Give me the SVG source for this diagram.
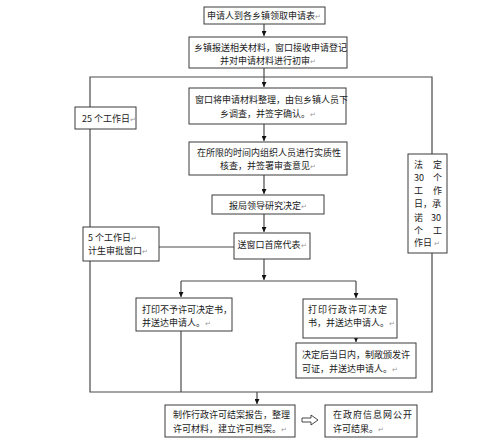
<svg xmlns="http://www.w3.org/2000/svg" width="499" height="441" viewBox="0 0 499 441">
<style>
.b{fill:#fff;stroke:#3a3a3a;stroke-width:1}
.t{font-family:"Noto Sans CJK SC","Noto Sans",sans-serif;font-size:9px;fill:#1a1a1a}
.m{text-anchor:middle}
.r{fill:#999;font-size:7px}
.c{fill:none;stroke:#4a4a4a;stroke-width:1.2}
</style>
<defs>
<marker id="a" viewBox="0 0 6 6" refX="6" refY="3" markerWidth="5" markerHeight="5" orient="auto" markerUnits="userSpaceOnUse">
<path d="M0,0L6,3L0,6z" fill="#111"/>
</marker>
</defs>
<rect width="499" height="441" fill="#fff"/>
<g id="connectors">
<path class="c" d="M264,24V36" marker-end="url(#a)"/>
<path class="c" d="M264,68V87" marker-end="url(#a)"/>
<path class="c" d="M90,107V77H432V154"/>
<path class="c" d="M90,129V227"/>
<path class="c" d="M90,261V392H432V253"/>
<path class="c" d="M264,124V141" marker-end="url(#a)"/>
<path class="c" d="M264,175V194" marker-end="url(#a)"/>
<path class="c" d="M264,214V232" marker-end="url(#a)"/>
<path class="c" d="M264,259V280" marker-end="url(#a)"/>
<path class="c" d="M181,281H356"/>
<path class="c" d="M181,281V297" marker-end="url(#a)"/>
<path class="c" d="M356,281V298" marker-end="url(#a)"/>
<path class="c" d="M159,247H234"/>
<path class="c" d="M356,338V342" marker-end="url(#a)"/>
<path class="c" d="M181,331V392"/>
<path class="c" d="M257,392V404" marker-end="url(#a)"/>
<path d="M302,418H311V415L318,420L311,425V422H302Z" fill="#fff" stroke="#333" stroke-width="0.9"/>
</g>
<g id="n1"><rect class="b" x="204" y="7" width="121" height="17"/><text class="t m" x="264" y="18.5">申请人到各乡镇领取申请表<tspan class="r">↵</tspan></text></g>
<g id="n2"><rect class="b" x="189" y="37" width="158" height="31"/><text class="t" x="194" y="50.5">乡镇报送相关材料，窗口接收申请登记</text><text class="t m" x="268" y="63.5">并对申请材料进行初审<tspan class="r">↵</tspan></text></g>
<g id="n3"><rect class="b" x="189" y="88" width="157" height="36"/><text class="t" x="195" y="102.5">窗口将申请材料整理，由包乡镇人员下</text><text class="t m" x="268" y="116.5">乡调查，并签字确认。<tspan class="r">↵</tspan></text></g>
<g id="n4"><rect class="b" x="189" y="142" width="158" height="33"/><text class="t" x="197" y="155.5">在所限的时间内组织人员进行实质性</text><text class="t m" x="268" y="168.5">核查，并签署审查意见<tspan class="r">↵</tspan></text></g>
<g id="n5"><rect class="b" x="212" y="195" width="112" height="19"/><text class="t m" x="268" y="208.5">报局领导研究决定<tspan class="r">↵</tspan></text></g>
<g id="n6"><rect class="b" x="234" y="233" width="76" height="26"/><text class="t m" x="272" y="248">送窗口首席代表<tspan class="r">↵</tspan></text></g>
<g id="n7"><rect class="b" x="75" y="107" width="61" height="22"/><text class="t" x="82" y="121.5">25 个工作日<tspan class="r">↵</tspan></text></g>
<g id="n8"><rect class="b" x="83" y="227" width="76" height="34"/><text class="t" x="88" y="240.5">5 个工作日<tspan class="r">↵</tspan></text><text class="t" x="88" y="253.5">计生审批窗口<tspan class="r">↵</tspan></text></g>
<g id="n9"><rect class="b" x="408" y="154" width="39" height="99"/>
<text class="t" x="414" y="168">法<tspan x="433">定</tspan></text>
<text class="t" x="414" y="181">30<tspan x="433">个</tspan></text>
<text class="t" x="414" y="194">工<tspan x="433">作</tspan></text>
<text class="t" x="414" y="207">日，承</text>
<text class="t" x="414" y="221">诺<tspan x="431">30</tspan></text>
<text class="t" x="414" y="234">个<tspan x="433">工</tspan></text>
<text class="t" x="414" y="246">作日 <tspan class="r">↵</tspan></text></g>
<g id="n10"><rect class="b" x="136" y="298" width="96" height="33"/><text class="t" x="142" y="313">打印不予许可决定书，</text><text class="t" x="142" y="326">并送达申请人。<tspan class="r">↵</tspan></text></g>
<g id="n11"><rect class="b" x="303" y="299" width="94" height="39"/><text class="t" x="308" y="313" letter-spacing="1">打印行政许可决定</text><text class="t" x="308" y="326">书，并送达申请人。<tspan class="r">↵</tspan></text></g>
<g id="n12"><rect class="b" x="296" y="343" width="120" height="35"/><text class="t" x="302" y="358">决定后当日内，制敞颁发许</text><text class="t" x="302" y="372">可证，并送达申请人。<tspan class="r">↵</tspan></text></g>
<g id="n13"><rect class="b" x="165" y="405" width="130" height="32"/><text class="t" x="173" y="418">制作行政许可结案报告，整理</text><text class="t" x="173" y="432">许可材料，建立许可档案。<tspan class="r">↵</tspan></text></g>
<g id="n14"><rect class="b" x="325" y="405" width="92" height="32"/><text class="t" x="333" y="418" letter-spacing="1">在政府信息网公开</text><text class="t" x="333" y="432">许可结果。<tspan class="r">↵</tspan></text></g>
</svg>
